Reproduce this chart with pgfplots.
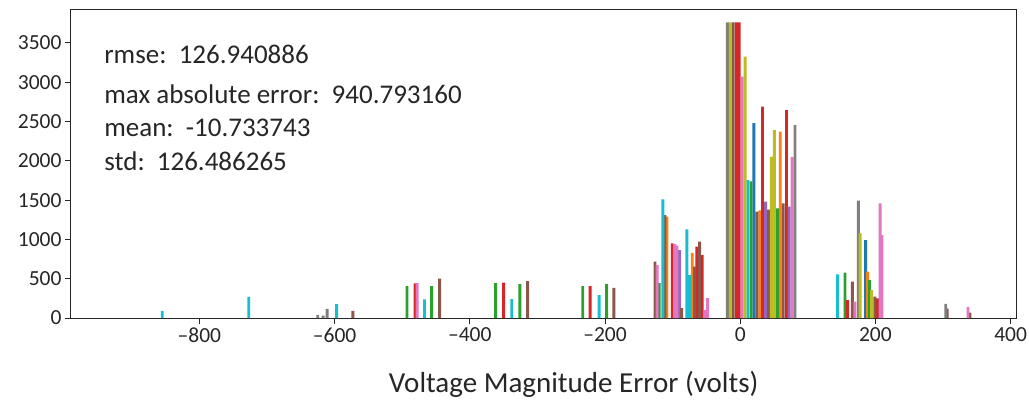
\documentclass[border=0pt]{standalone}
\usepackage{fontspec}
\setmainfont{Carlito}
\usepackage{pgfplots}
\pgfplotsset{compat=1.18}
\definecolor{C0}{HTML}{1F77B4}
\definecolor{C1}{HTML}{FF7F0E}
\definecolor{C2}{HTML}{2CA02C}
\definecolor{C3}{HTML}{D62728}
\definecolor{C4}{HTML}{9467BD}
\definecolor{C5}{HTML}{8C564B}
\definecolor{C6}{HTML}{E377C2}
\definecolor{C7}{HTML}{7F7F7F}
\definecolor{C8}{HTML}{BCBD22}
\definecolor{C9}{HTML}{17BECF}
\pgfplotsset{hb/.style={ybar, bar width=4.3, bar shift=0pt, draw=none}}
\begin{document}
\begin{tikzpicture}
\begin{axis}[
  at={(0,0)}, anchor=south west,
  width=945pt, height=308pt, scale only axis,
  xmin=-990, xmax=408, ymin=0, ymax=3919,
  axis line style={line width=1pt, black!85},
  tick align=outside, major tick length=6pt,
  xtick pos=bottom, ytick pos=left,
  xtick={-800,-600,-400,-200,0,200,400},
  xticklabels={--800,--600,--400,--200,0,200,400},
  ytick={0,500,1000,1500,2000,2500,3000,3500},
  /pgf/number format/assume math mode=true,
  /pgf/number format/set thousands separator={},
  ticklabel style={font=\fontsize{21.5}{24}\selectfont, text=black!85},
  tick style={line width=1pt, black!85},
  xlabel={Voltage Magnitude Error (volts)},
  xlabel style={font=\fontsize{29}{34}\selectfont, text=black!85, at={(axis description cs:0.532,0)}, anchor=base, yshift=-74pt},
]
% one series per colour of the cycle
\addplot[hb, fill=C0] coordinates {(20.3,2480) (185.5,992)};
\addplot[hb, fill=C1] coordinates {(29,1370) (59.2,2370) (-108.5,1290) (-71,830) (188.5,589)};
\addplot[hb, fill=C2] coordinates {(15.9,1740) (54.9,1395) (-493,407) (-456.5,407) (-361.8,445) (-326,430) (-233,407) (-197.6,433) (155,577) (191.4,483) (-120,445)};
\addplot[hb, fill=C3] coordinates {(-5.9,3760) (-1.6,3760) (33,2690) (68.5,2646) (-100.6,950) (-64,907) (-56.2,801) (159,229) (203,250) (-481,440) (-350,450) (-222,407)};
\addplot[hb, fill=C4] coordinates {(37.5,1480) (72.3,1416) (-89.7,865)};
\addplot[hb, fill=C5] coordinates {(-10.3,3760) (24.7,1352) (41.8,1380) (63.6,1460) (-126,716) (-111.4,1310) (-86.7,127) (-60,971) (-67.5,653) (-444.7,500) (-314.5,470) (-186.8,382) (199.3,271) (166,462) (306,120) (340,70) (-573,90)};
\addplot[hb, fill=C6] coordinates {(2.8,3070) (76.7,2050) (-123,674) (-96.6,940) (-93.6,921) (-52.2,100) (-48.2,254) (-478,443) (169.7,208) (207,1459) (209.5,1056) (337,140)};
\addplot[hb, fill=C7] coordinates {(-19,3760) (81,2455) (174.7,1492) (304,180) (-611,115) (-625,40) (-617,30)};
\addplot[hb, fill=C8] coordinates {(-14.6,3760) (7.2,3325) (46.2,2050) (50.5,2390) (177.5,1077) (194.4,356)};
\addplot[hb, fill=C9] coordinates {(11.5,1755) (-114.5,1510) (-78.8,1128) (-74.9,547) (144,556) (-855,90) (-727,270) (-597,175) (-467,238) (-338,240) (-208.6,292)};
\begin{scope}[every node/.style={anchor=base west, inner sep=0pt, text=black!85, font=\fontsize{27}{32}\selectfont}]
\node at (axis cs:-941,3240) {rmse:\ \ 126.940886};
\node at (axis cs:-941,2731) {max absolute error:\ \ 940.793160};
\node at (axis cs:-941,2315) {mean:\ \ -10.733743};
\node at (axis cs:-941,1883) {std:\ \ 126.486265};
\end{scope}
\end{axis}
\pgfresetboundingbox
\path (-71pt,-84pt) rectangle (958pt,318pt);
\end{tikzpicture}
\end{document}
